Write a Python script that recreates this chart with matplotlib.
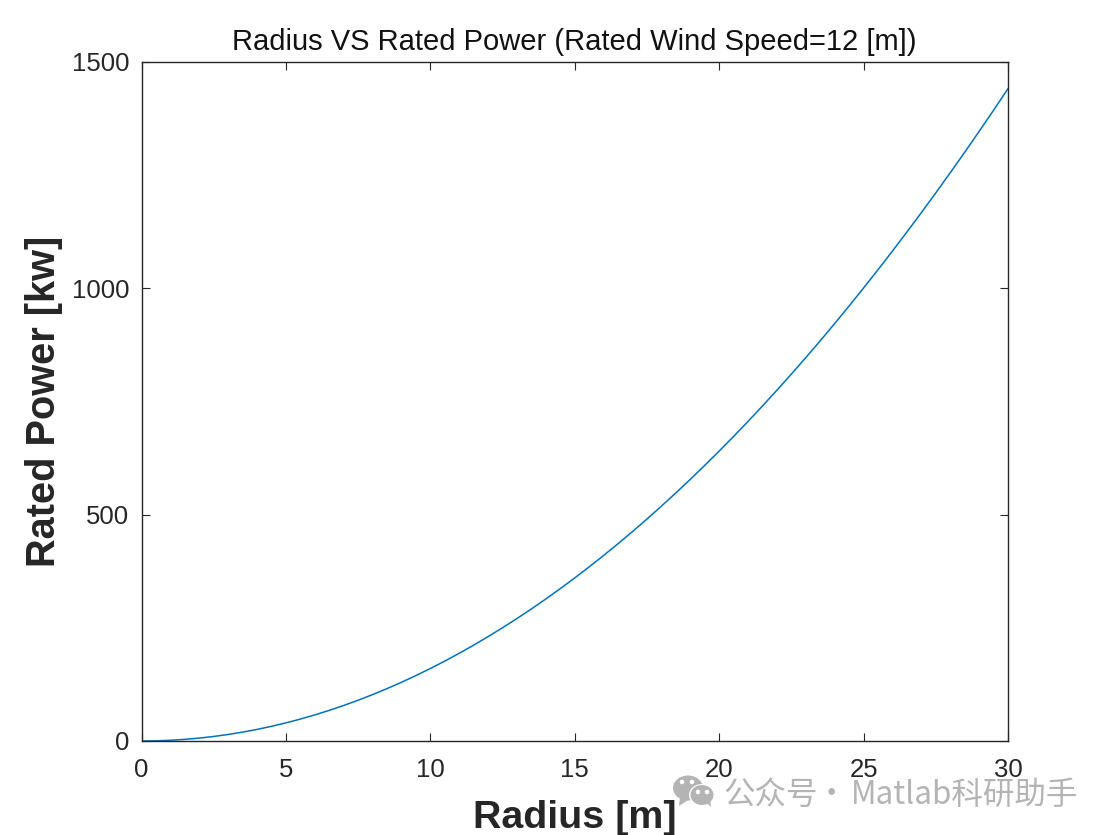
import matplotlib
matplotlib.use('Agg')
import matplotlib.pyplot as plt
from matplotlib.patches import Ellipse, Polygon

plt.rcParams['font.family'] = ['Liberation Sans', 'DejaVu Sans']

# values every half metre of radius
radius = [0, 0.5, 1, 1.5, 2, 2.5, 3, 3.5, 4, 4.5, 5, 5.5, 6, 6.5, 7, 7.5, 8, 8.5, 9, 9.5,
          10, 10.5, 11, 11.5, 12, 12.5, 13, 13.5, 14, 14.5, 15, 15.5, 16, 16.5, 17, 17.5,
          18, 18.5, 19, 19.5, 20, 20.5, 21, 21.5, 22, 22.5, 23, 23.5, 24, 24.5, 25, 25.5,
          26, 26.5, 27, 27.5, 28, 28.5, 29, 29.5, 30]
rated_power = [0, 0.4, 1.6, 3.6, 6.4, 10, 14.4, 19.6, 25.6, 32.4, 40, 48.4, 57.6, 67.6, 78.4,
               90, 102.4, 115.6, 129.6, 144.4, 160, 176.4, 193.6, 211.6, 230.4, 250, 270.4,
               291.6, 313.6, 336.4, 360, 384.4, 409.6, 435.6, 462.4, 490, 518.4, 547.6,
               577.6, 608.4, 640, 672.4, 705.6, 739.6, 774.4, 810, 846.4, 883.6, 921.6,
               960.4, 1000, 1040.4, 1081.6, 1123.6, 1166.4, 1210, 1254.4, 1299.6, 1345.6,
               1392.4, 1440]
x_ticks = [0, 5, 10, 15, 20, 25, 30]
y_ticks = [0, 500, 1000, 1500]

W, H = 1112, 835
dark = '#262626'

fig = plt.figure(figsize=(W / 100, H / 100), dpi=100, facecolor='white')
ax = fig.add_axes([141.5 / W, 1 - 741 / H, 866.5 / W, 679.5 / H])

ax.plot(radius, rated_power, color='#0072BD', lw=1.1)
ax.set_xlim(0, 30)
ax.set_ylim(0, 1500)
ax.set_xticks(x_ticks)
ax.set_yticks(y_ticks)
ax.tick_params(direction='in', length=8 * 0.72, width=0.8, top=True, right=True,
               labelsize=18.5, colors=dark)
ax.tick_params(axis='x', pad=12)
ax.tick_params(axis='y', pad=9)
for s in ax.spines.values():
    s.set_linewidth(1.0)
    s.set_color(dark)

ax.set_title('Radius VS Rated Power (Rated Wind Speed=12 [m])', fontsize=21, color='#111111', pad=8)
ax.set_xlabel('Radius [m]', fontsize=28.4, fontweight='bold', color=dark, labelpad=13)
ax.set_ylabel('Rated Power [kw]', fontsize=28.6, fontweight='bold', color=dark, labelpad=6)

# watermark, placed in three pieces because the CJK dot is too wide
mark_grey = '#b4b4b4'
cjk = ['Noto Sans CJK SC', 'DejaVu Sans']
fig.text(723 / W, 1 - 795 / H, '公众号', fontsize=22.7, color=mark_grey, family=cjk, va='center', ha='left')
fig.text(831 / W, 1 - 795 / H, '·', fontsize=22.7, color=mark_grey, family=cjk, va='center', ha='center')
fig.text(851 / W, 1 - 795 / H, 'Matlab科研助手', fontsize=22.7, color=mark_grey, family=cjk, va='center', ha='left')

icon = fig.add_axes([0, 0, 1, 1], facecolor='none')
icon.set_xlim(0, W)
icon.set_ylim(H, 0)
icon.axis('off')
icon.add_patch(Ellipse((688, 788), 30, 25, color=mark_grey, lw=0))
icon.add_patch(Polygon([[680, 797], [679, 806], [690, 799]], color=mark_grey, lw=0))
icon.add_patch(Ellipse((702, 795), 26, 22, color='white', lw=0))
icon.add_patch(Ellipse((702, 795), 23, 20, color=mark_grey, lw=0))
icon.add_patch(Polygon([[706, 802], [711, 807], [710, 798]], color=mark_grey, lw=0))
for cx, cy in [(682, 782), (692, 782), (698, 792), (707, 792)]:
    icon.add_patch(Ellipse((cx, cy), 4.5, 4.5, color='white', lw=0))

fig.savefig('out.png', dpi=100)
